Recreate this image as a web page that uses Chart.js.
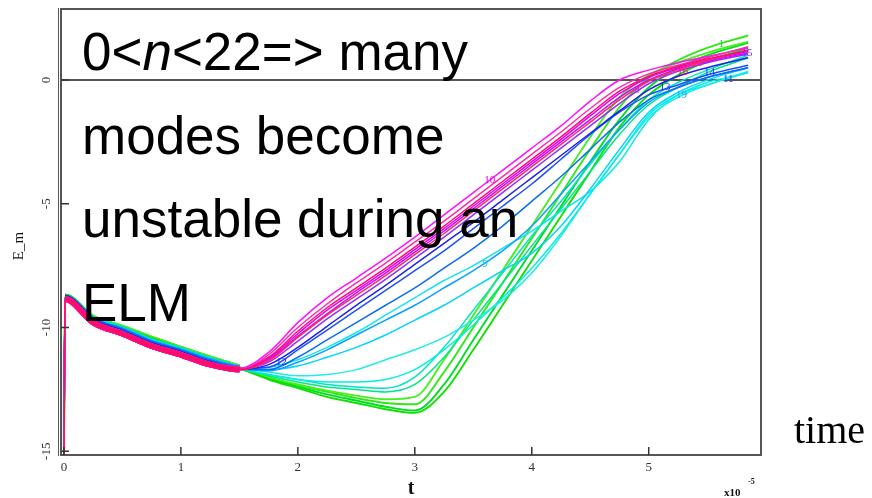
<!DOCTYPE html>
<html>
<head>
<meta charset="utf-8">
<title>E_m vs t</title>
<script src="https://cdn.jsdelivr.net/npm/chart.js@4/dist/chart.umd.min.js"></script>
<style>
  body { margin: 0; background: #fff; }
  #wrap { position: relative; width: 872px; height: 498px; }
  #note {
    position: absolute; left: 82px; top: 10px;
    font: 53px "Liberation Sans", Arial, sans-serif;
    line-height: 83.5px; color: #000; white-space: nowrap;
  }
</style>
</head>
<body>
<div id="wrap">
  <canvas id="chart" width="872" height="498"></canvas>
  <div id="note">0&lt;<i>n</i>&lt;22=&gt; many<br>modes become<br>unstable during an<br>ELM</div>
</div>
<script>
// time axis (units of 1e-5 s)
const t = [0, 0.01, 0.25, 0.5, 0.75, 1.0, 1.25, 1.5, 1.75, 2.0, 2.25, 2.5, 2.75, 3.0, 3.25, 3.5, 3.75, 4.0, 4.25, 4.5, 4.75, 5.0, 5.25, 5.5, 5.85];

const xTicks = [0, 1, 2, 3, 4, 5];
const yTicks = [0, -5, -10, -15];

// log energy of each toroidal mode, drawn bottom to top
const g1 = [-15.2, -8.75, -9.6, -10.0, -10.45, -10.85, -11.25, -11.6, -12.0, -12.35, -12.6, -12.85, -13.05, -13.1, -11.8, -10.0, -8.2, -6.4, -4.6, -2.8, -1.1, 0.1, 0.8, 1.3, 1.8];
const g2 = [-15.2, -8.75, -9.65, -10.05, -10.5, -10.9, -11.3, -11.65, -12.05, -12.4, -12.7, -12.95, -13.2, -13.35, -12.3, -10.5, -8.7, -6.9, -5.1, -3.3, -1.6, -0.3, 0.5, 1.0, 1.5];
const g3 = [-15.2, -8.75, -9.6, -10.0, -10.45, -10.85, -11.25, -11.6, -12.0, -12.3, -12.55, -12.75, -12.9, -12.8, -11.3, -9.5, -7.7, -5.9, -4.1, -2.3, -0.7, 0.2, 0.7, 1.1, 1.55];
const g4 = [-15.2, -8.75, -9.65, -10.05, -10.5, -10.9, -11.3, -11.65, -12.1, -12.45, -12.8, -13.05, -13.3, -13.45, -12.6, -10.9, -9.1, -7.3, -5.5, -3.7, -1.9, -0.6, 0.2, 0.75, 1.3];
const s1 = [-15.2, -8.8, -9.65, -10.05, -10.55, -10.9, -11.3, -11.65, -11.95, -12.2, -12.4, -12.5, -12.6, -12.3, -11.2, -9.7, -8.2, -6.7, -5.2, -3.7, -2.2, -1.0, -0.3, 0.3, 0.9];
const s2 = [-15.2, -8.8, -9.65, -10.05, -10.55, -10.9, -11.3, -11.65, -11.9, -12.1, -12.3, -12.4, -12.45, -12.0, -10.8, -9.3, -7.8, -6.3, -4.9, -3.4, -2.0, -0.8, -0.1, 0.4, 1.0];
const c1 = [-15.2, -8.8, -9.7, -10.1, -10.6, -10.95, -11.35, -11.65, -11.6, -11.3, -10.8, -10.2, -9.5, -8.8, -8.1, -7.5, -6.8, -6.1, -5.3, -4.5, -3.3, -1.6, -0.6, -0.2, 0.35];
const c2 = [-15.2, -8.8, -9.7, -10.1, -10.6, -10.95, -11.35, -11.65, -11.7, -11.55, -11.2, -10.8, -10.3, -9.7, -9.1, -8.4, -7.7, -7.0, -5.9, -4.4, -2.8, -1.3, -0.5, 0.0, 0.5];
const c3 = [-15.2, -8.8, -9.7, -10.1, -10.6, -10.95, -11.35, -11.65, -11.8, -11.95, -11.9, -11.7, -11.3, -10.9, -10.4, -9.7, -8.9, -7.8, -6.3, -4.6, -3.0, -1.5, -0.7, -0.2, 0.3];
const c4 = [-15.2, -8.8, -9.7, -10.1, -10.6, -10.95, -11.35, -11.65, -11.9, -12.1, -12.2, -12.2, -12.1, -11.7, -10.9, -9.9, -8.8, -7.6, -6.2, -4.6, -3.0, -1.4, -0.6, -0.1, 0.3];
const a1 = [-15.2, -8.8, -9.7, -10.1, -10.6, -10.95, -11.35, -11.65, -11.75, -11.4, -10.9, -10.3, -9.7, -9.1, -8.4, -7.7, -6.9, -5.9, -4.6, -3.3, -2.0, -0.9, -0.3, 0.1, 0.5];
const b1 = [-15.2, -8.8, -9.7, -10.15, -10.65, -11.0, -11.4, -11.65, -11.6, -10.9, -10.1, -9.3, -8.5, -7.7, -6.9, -6.0, -5.1, -4.2, -3.2, -2.2, -1.3, -0.6, -0.2, 0.2, 0.6];
const b2 = [-15.2, -8.8, -9.7, -10.15, -10.65, -11.0, -11.4, -11.7, -11.7, -11.2, -10.5, -9.8, -9.1, -8.4, -7.6, -6.8, -5.9, -4.9, -3.9, -2.8, -1.7, -0.8, -0.3, 0.1, 0.5];
const d1 = [-15.2, -8.8, -9.75, -10.2, -10.7, -11.05, -11.45, -11.7, -11.5, -10.8, -9.95, -9.1, -8.3, -7.45, -6.6, -5.75, -4.85, -3.95, -3.05, -2.15, -1.25, -0.4, 0.15, 0.5, 0.9];
const m7 = [-15.2, -8.85, -9.8, -10.25, -10.75, -11.1, -11.5, -11.7, -11.4, -10.55, -9.65, -8.85, -8.05, -7.2, -6.35, -5.45, -4.55, -3.65, -2.75, -1.85, -0.95, -0.15, 0.35, 0.7, 1.05];
const m5 = [-15.2, -8.85, -9.8, -10.25, -10.75, -11.1, -11.5, -11.7, -11.3, -10.35, -9.45, -8.6, -7.8, -6.95, -6.1, -5.2, -4.3, -3.4, -2.5, -1.6, -0.7, 0.0, 0.45, 0.75, 1.1];
const m4 = [-15.2, -8.85, -9.8, -10.25, -10.75, -11.1, -11.5, -11.7, -11.25, -10.25, -9.3, -8.5, -7.7, -6.85, -6.0, -5.1, -4.2, -3.3, -2.4, -1.45, -0.55, 0.1, 0.5, 0.8, 1.15];
const m1 = [-15.2, -8.85, -9.8, -10.25, -10.75, -11.1, -11.5, -11.65, -11.0, -9.8, -8.8, -8.0, -7.2, -6.35, -5.45, -4.55, -3.65, -2.75, -1.85, -0.85, 0.0, 0.4, 0.7, 0.95, 1.3];
const m2 = [-15.2, -8.85, -9.8, -10.25, -10.75, -11.1, -11.5, -11.7, -11.1, -10.0, -9.05, -8.2, -7.4, -6.55, -5.7, -4.8, -3.9, -3.0, -2.1, -1.15, -0.3, 0.25, 0.6, 0.9, 1.35];
const m6 = [-15.2, -8.85, -9.8, -10.25, -10.75, -11.1, -11.5, -11.7, -11.35, -10.4, -9.5, -8.7, -7.9, -7.05, -6.2, -5.3, -4.4, -3.5, -2.6, -1.7, -0.8, -0.05, 0.4, 0.8, 1.2];
const m3 = [-15.2, -8.85, -9.8, -10.25, -10.75, -11.1, -11.5, -11.7, -11.2, -10.15, -9.2, -8.4, -7.6, -6.75, -5.9, -5.0, -4.1, -3.2, -2.3, -1.35, -0.45, 0.15, 0.55, 0.85, 1.2];

const series = [g1, g2, g3, g4, s1, s2, c1, c2, c3, c4, a1, b1, b2, d1, m7, m5, m4, m1, m2, m6, m3];
const colors = ['#30e818', '#00dc28', '#48ee20', '#10e000', '#00e68a', '#00e4c0',
  '#10e6f0', '#00d4ff', '#20eaea', '#00f0e0', '#0aa0ff', '#1a50ff', '#0a6cf0', '#2020e8',
  '#9030ff', '#c010ff', '#e800f0', '#ff10ff', '#ff2aa8', '#ff2a60', '#ff0a70'];

// mode numbers written next to some curves
const modeLabels = [
  { text: '10', x: 3.64, y: -4.05, color: '#e800e0' },
  { text: '12', x: 1.86, y: -11.4, color: '#2030e8' },
  { text: '9', x: 3.6, y: -7.45, color: '#10c8e8' },
  { text: '1', x: 5.62, y: 1.45, color: '#20d020' },
  { text: '15', x: 5.84, y: 1.1, color: '#8030ff' },
  { text: '19', x: 5.28, y: -0.6, color: '#10a8f0' },
  { text: '14', x: 5.52, y: 0.3, color: '#1040f0' },
  { text: '11', x: 5.68, y: 0.05, color: '#1040f0' },
  { text: '13', x: 5.14, y: -0.28, color: '#1030e0' },
  { text: '12', x: 5.41, y: 0.7, color: '#ff2080' },
  { text: '16', x: 5.29, y: 0.32, color: '#ff1060' },
  { text: '8', x: 4.9, y: -0.4, color: '#c020ff' }
];

const datasets = series.map((ys, i) => ({
  data: t.map((x, k) => ({ x, y: ys[k] })),
  borderColor: colors[i],
  borderWidth: i < 4 ? 1.9 : 1.5,
  order: series.length - i,
  segment: {
    // noisy early phase drawn as a thick band
    borderWidth: ctx => (ctx.p0.parsed.x >= 0.01 && ctx.p1.parsed.x <= 1.5) ? 5.5 : undefined
  }
}));

const frame = {
  id: 'frame',
  afterDraw(chart) {
    const { ctx, chartArea: a, scales: { x, y } } = chart;
    ctx.save();
    ctx.strokeStyle = '#555';
    ctx.lineWidth = 2;
    ctx.strokeRect(a.left, a.top, a.right - a.left, a.bottom - a.top);
    ctx.lineWidth = 1;
    ctx.beginPath();
    ctx.moveTo(a.left - 2.5, a.top - 1);
    ctx.lineTo(a.left - 2.5, a.bottom + 1);
    ctx.stroke();

    // inward tick marks
    ctx.strokeStyle = '#333';
    ctx.lineWidth = 1.5;
    ctx.beginPath();
    xTicks.forEach(v => {
      const px = x.getPixelForValue(v);
      ctx.moveTo(px, a.bottom);
      ctx.lineTo(px, a.bottom - 8);
    });
    yTicks.forEach(v => {
      const py = y.getPixelForValue(v);
      ctx.moveTo(a.left, py);
      ctx.lineTo(a.left + 8, py);
    });
    ctx.stroke();

    // rotated y tick labels
    ctx.fillStyle = '#333';
    ctx.font = '13px "Liberation Serif"';
    ctx.textAlign = 'center';
    ctx.textBaseline = 'middle';
    yTicks.forEach(v => {
      ctx.save();
      ctx.translate(47, y.getPixelForValue(v));
      ctx.rotate(-Math.PI / 2);
      ctx.fillText(String(v), 0, 0);
      ctx.restore();
    });

    ctx.save();
    ctx.translate(19, 246);
    ctx.rotate(-Math.PI / 2);
    ctx.font = '15px "Liberation Serif"';
    ctx.fillStyle = '#111';
    ctx.fillText('E_m', 0, 0);
    ctx.restore();

    ctx.fillStyle = '#111';
    ctx.font = 'bold 20px "Liberation Serif"';
    ctx.fillText('t', 411, 489);

    ctx.textAlign = 'left';
    ctx.textBaseline = 'alphabetic';
    ctx.font = 'bold 11px "Liberation Serif"';
    ctx.fillText('x10', 724, 496);
    ctx.font = 'bold 8px "Liberation Serif"';
    ctx.fillText('-5', 748, 484);

    ctx.font = '40px "Liberation Serif"';
    ctx.fillStyle = '#000';
    ctx.fillText('time', 794, 443);

    ctx.font = '11px "Liberation Serif"';
    ctx.textAlign = 'center';
    ctx.textBaseline = 'middle';
    modeLabels.forEach(l => {
      ctx.fillStyle = l.color;
      ctx.fillText(l.text, x.getPixelForValue(l.x), y.getPixelForValue(l.y));
    });
    ctx.restore();
  }
};

new Chart(document.getElementById('chart'), {
  type: 'line',
  data: { datasets },
  options: {
    responsive: false,
    animation: false,
    layout: { padding: { top: 9, right: 111, left: 0, bottom: 0 } },
    plugins: { legend: { display: false }, tooltip: { enabled: false } },
    elements: {
      point: { radius: 0 },
      line: { cubicInterpolationMode: 'monotone' }
    },
    scales: {
      x: {
        type: 'linear',
        min: -0.025,
        max: 5.96,
        afterBuildTicks: s => { s.ticks = xTicks.map(v => ({ value: v })); },
        afterFit: s => { s.height = 43; },
        grid: { display: false, drawTicks: false },
        border: { display: false },
        ticks: { font: { family: 'Liberation Serif', size: 13 }, color: '#333', padding: 5, maxRotation: 0 }
      },
      y: {
        type: 'linear',
        min: -15.15,
        max: 2.87,
        afterBuildTicks: s => { s.ticks = yTicks.map(v => ({ value: v })); },
        afterFit: s => { s.width = 61; },
        grid: {
          drawTicks: false,
          color: c => (c.tick && c.tick.value === 0) ? '#555' : 'rgba(0,0,0,0)',
          lineWidth: 2
        },
        border: { display: false },
        ticks: { display: false }
      }
    }
  },
  plugins: [frame]
});
</script>
</body>
</html>
